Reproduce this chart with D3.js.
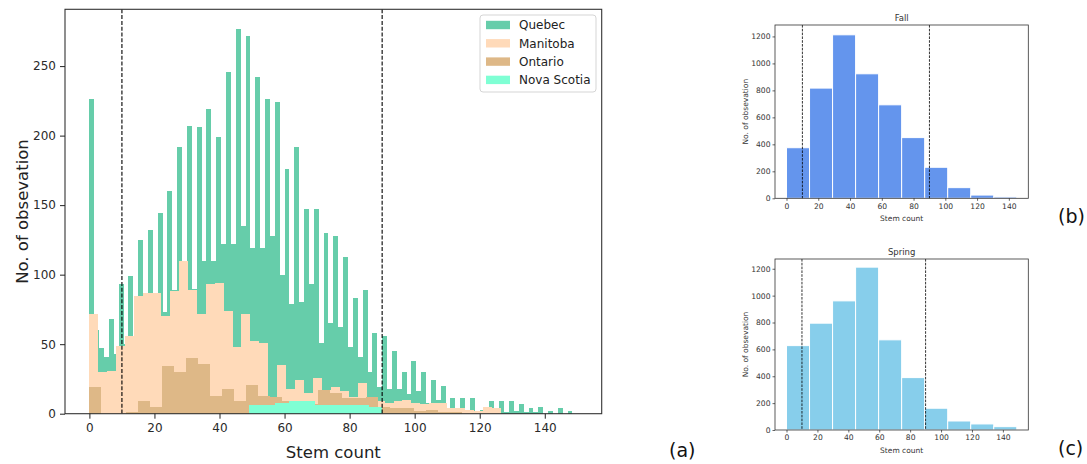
<!DOCTYPE html>
<html>
<head>
<meta charset="utf-8">
<script src="https://cdn.jsdelivr.net/npm/d3@7"></script>
<style>
  html, body { margin: 0; padding: 0; background: #fff; }
  svg { display: block; }
  text { font-family: "DejaVu Sans", sans-serif; }
</style>
</head>
<body>
<svg id="chart" width="1087" height="464"></svg>
<script>
// ---------- DATA ----------
// Main histogram (a): counts per bin
const quebecBinStart = 0, quebecBinWidth = 1.5;
const quebecCounts = [
  226, 60, 47, 41, 68, 43, 93, 50, 99, 56,
  125, 80, 132, 84, 144, 73, 160, 89, 192, 95,
  207, 90, 206, 110, 219, 110, 199, 122, 246, 122,
  277, 135, 272, 119, 242, 119, 226, 128, 224, 100,
  176, 79, 192, 80, 147, 93, 147, 51, 130, 65,
  128, 62, 113, 48, 83, 41, 89, 30, 58, 19,
  56, 18, 45, 18, 30, 14, 38, 16, 30, 8,
  24, 10, 20, 3, 11, 2, 11, 2, 11, 2,
  3, 1, 9, 1, 9, 1, 9, 2, 7, 1,
  4, 1, 5, 0, 2, 0, 4, 0, 2, 0
];
const manitobaBinStart = 0, manitobaBinWidth = 2.75;
const manitobaCounts = [
  72, 30, 31, 49, 56, 85, 87, 87, 70, 88,
  110, 89, 72, 93, 94, 74, 48, 72, 52, 51,
  8, 35, 18, 24, 15, 26, 17, 19, 16, 12,
  22, 12, 9, 8, 9, 10, 8, 7, 8, 8,
  4, 4, 3, 2, 5, 4
];
const ontarioBinStart = 0, ontarioBinWidth = 3.7;
const ontarioCounts = [
  19, 0, 0, 1, 9, 5, 34, 30, 40, 36,
  13, 18, 9, 21, 13, 12, 9, 7, 7, 17,
  15, 11, 11, 12, 5, 4, 4, 2, 3, 1, 1
];
const novaScotiaBinStart = 49, novaScotiaBinWidth = 4.1;
const novaScotiaCounts = [6, 6.5, 8, 9, 9, 6.5, 6, 6, 6, 5];

const provinces = ["Quebec", "Manitoba", "Ontario", "Nova Scotia"];
const provinceColors = ["#66CDAA", "#FFDAB9", "#DEB887", "#7FFFD4"];

// Sub histograms (b) Fall, (c) Spring
const fallBinStart = 0, fallBinWidth = 14.5;
const fallCounts = [375, 817, 1212, 923, 693, 450, 230, 79, 24, 10];
const springBinStart = 0, springBinWidth = 14.9;
const springCounts = [628, 795, 961, 1212, 671, 390, 162, 67, 45, 25];

const thresholdLines = [10, 90];
const mainXTicks = [0, 20, 40, 60, 80, 100, 120, 140];
const mainYTicks = [0, 50, 100, 150, 200, 250];
const subXTicks = [0, 20, 40, 60, 80, 100, 120, 140];
const subYTicks = [0, 200, 400, 600, 800, 1000, 1200];

// ---------- HELPERS ----------
function toBins(start, width, counts) {
  return counts.map((c, i) => ({ x0: start + i * width, x1: start + (i + 1) * width, n: c }));
}

const svg = d3.select("#chart");
const intFmt = d3.format("d");

function styleAxis(g, fontSize, color) {
  g.select(".domain").remove();
  g.selectAll(".tick line").attr("stroke", "#222");
  g.selectAll(".tick text").attr("font-size", fontSize).attr("fill", color)
    .attr("font-family", "DejaVu Sans, sans-serif");
}

// ---------- MAIN CHART (a) ----------
{
  const L = 65, R = 601.7, T = 9.3, B = 413.7;
  const x = d3.scaleLinear().domain([-7.5, 157.5]).range([L, R]);
  const y = d3.scaleLinear().domain([0, 277 * 1.05]).range([B, T]);

  const series = [
    toBins(quebecBinStart, quebecBinWidth, quebecCounts),
    toBins(manitobaBinStart, manitobaBinWidth, manitobaCounts),
    toBins(ontarioBinStart, ontarioBinWidth, ontarioCounts),
    toBins(novaScotiaBinStart, novaScotiaBinWidth, novaScotiaCounts)
  ];

  series.forEach((bins, si) => {
    svg.append("g").attr("shape-rendering", "crispEdges")
      .selectAll("rect").data(bins.filter(d => d.n > 0)).join("rect")
      .attr("x", d => x(d.x0))
      .attr("width", d => x(d.x1) - x(d.x0))
      .attr("y", d => y(d.n))
      .attr("height", d => y(0) - y(d.n))
      .attr("fill", provinceColors[si]);
  });

  // threshold lines
  svg.append("g").selectAll("line").data(thresholdLines).join("line")
    .attr("x1", d => x(d)).attr("x2", d => x(d))
    .attr("y1", T).attr("y2", B)
    .attr("stroke", "#000").attr("stroke-width", 1.1)
    .attr("stroke-dasharray", "4,1.8");

  // frame
  svg.append("rect").attr("x", L).attr("y", T).attr("width", R - L).attr("height", B - T)
    .attr("fill", "none").attr("stroke", "#333").attr("stroke-width", 1.1);

  const gx = svg.append("g").attr("transform", `translate(0,${B})`)
    .call(d3.axisBottom(x).tickValues(mainXTicks).tickFormat(intFmt).tickSize(5).tickPadding(5));
  styleAxis(gx, 12, "#2a2a2a");
  const gy = svg.append("g").attr("transform", `translate(${L},0)`)
    .call(d3.axisLeft(y).tickValues(mainYTicks).tickFormat(intFmt).tickSize(5).tickPadding(4));
  styleAxis(gy, 12, "#2a2a2a");

  svg.append("text").attr("x", (L + R) / 2).attr("y", 458)
    .attr("text-anchor", "middle").attr("font-size", 16.5).attr("fill", "#222")
    .text("Stem count");
  svg.append("text").attr("transform", `translate(28,${(T + B) / 2}) rotate(-90)`)
    .attr("text-anchor", "middle").attr("font-size", 16.5).attr("fill", "#222")
    .text("No. of obsevation");

  // legend
  const lg = svg.append("g").attr("transform", "translate(480,15)");
  lg.append("rect").attr("width", 116).attr("height", 77).attr("rx", 3)
    .attr("fill", "#fff").attr("fill-opacity", 0.85).attr("stroke", "#d5d5d5");
  provinces.forEach((p, i) => {
    const ry = 10 + i * 18.3;
    lg.append("rect").attr("x", 6).attr("y", ry - 4.2).attr("width", 24).attr("height", 8.4)
      .attr("fill", provinceColors[i]);
    lg.append("text").attr("x", 39).attr("y", ry + 4.3).attr("font-size", 12).attr("fill", "#222")
      .text(p);
  });
}

// ---------- SUB CHARTS ----------
function subChart(opts) {
  const { L, R, T, B, xDomain, yMax, bins, color, title } = opts;
  const x = d3.scaleLinear().domain(xDomain).range([L, R]);
  const y = d3.scaleLinear().domain([0, yMax]).range([B, T]);

  svg.append("g").selectAll("rect").data(bins).join("rect")
    .attr("x", d => x(d.x0))
    .attr("width", d => x(d.x1) - x(d.x0))
    .attr("y", d => y(d.n))
    .attr("height", d => y(0) - y(d.n))
    .attr("fill", color).attr("stroke", "#fff").attr("stroke-width", 1);

  svg.append("g").selectAll("line").data(thresholdLines).join("line")
    .attr("x1", d => x(d)).attr("x2", d => x(d))
    .attr("y1", T).attr("y2", B)
    .attr("stroke", "#000").attr("stroke-width", 0.8)
    .attr("stroke-dasharray", "2.6,1.2");

  svg.append("rect").attr("x", L).attr("y", T).attr("width", R - L).attr("height", B - T)
    .attr("fill", "none").attr("stroke", "#333").attr("stroke-width", 0.8);

  const gx = svg.append("g").attr("transform", `translate(0,${B})`)
    .call(d3.axisBottom(x).tickValues(subXTicks).tickFormat(intFmt).tickSize(2.5).tickPadding(2.5));
  styleAxis(gx, 7.6, "#333");
  gx.selectAll(".tick line").attr("stroke-width", 0.7);
  const gy = svg.append("g").attr("transform", `translate(${L},0)`)
    .call(d3.axisLeft(y).tickValues(subYTicks).tickFormat(intFmt).tickSize(2.5).tickPadding(2));
  styleAxis(gy, 7.6, "#333");
  gy.selectAll(".tick line").attr("stroke-width", 0.7);

  svg.append("text").attr("x", (L + R) / 2).attr("y", B + 22.5)
    .attr("text-anchor", "middle").attr("font-size", 7.5).attr("fill", "#333")
    .text("Stem count");
  svg.append("text").attr("transform", `translate(747.5,${(T + B) / 2}) rotate(-90)`)
    .attr("text-anchor", "middle").attr("font-size", 7.5).attr("fill", "#333")
    .text("No. of obsevation");
  svg.append("text").attr("x", (L + R) / 2).attr("y", T - 4)
    .attr("text-anchor", "middle").attr("font-size", 8.5).attr("fill", "#333")
    .text(title);
}

subChart({
  L: 775, R: 1028.3, T: 25, B: 198.3,
  xDomain: [-7.25, 152.25], yMax: 1212 * 1.06,
  bins: toBins(fallBinStart, fallBinWidth, fallCounts),
  color: "#6495ED", title: "Fall"
});
subChart({
  L: 775, R: 1028.3, T: 259, B: 430,
  xDomain: [-7.45, 156.45], yMax: 1212 * 1.05,
  bins: toBins(springBinStart, springBinWidth, springCounts),
  color: "#87CEEB", title: "Spring"
});

// panel labels
const panelLabels = [
  { t: "(a)", x: 669, y: 457 },
  { t: "(b)", x: 1058, y: 223 },
  { t: "(c)", x: 1058, y: 455 }
];
svg.append("g").selectAll("text").data(panelLabels).join("text")
  .attr("x", d => d.x).attr("y", d => d.y)
  .attr("font-family", "Liberation Sans, Arial, sans-serif")
  .attr("font-size", 19).attr("fill", "#111")
  .text(d => d.t);
</script>
</body>
</html>
